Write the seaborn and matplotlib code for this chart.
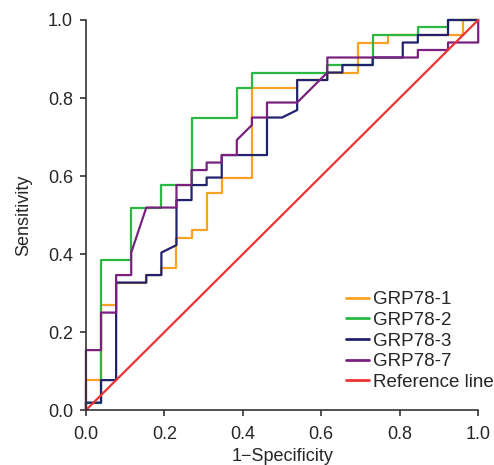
import numpy as np
import pandas as pd
import matplotlib
matplotlib.use("Agg")
import matplotlib.pyplot as plt
import seaborn as sns

# ROC steps: false positives out of 26 negatives,
# true positives out of 52 positives (curve vertices, in drawing order)
N_NEG = 26
N_POS = 52

grp1_fp = [0, 0, 1, 1, 2, 2, 4, 4, 5, 5, 6, 6, 7, 7, 8, 8, 9, 9, 11, 11, 14, 14, 16, 16, 17, 17, 18, 18, 20, 20, 25, 25, 26]
grp1_tp = [0, 4, 4, 14, 14, 17, 17, 18, 18, 19, 19, 23, 23, 24, 24, 29, 29, 31, 31, 43, 43, 44, 44, 45, 45, 45, 45, 49, 49, 50, 50, 52, 52]

grp2_fp = [0, 0, 1, 1, 3, 3, 5, 5, 7, 7, 10, 10, 11, 11, 16, 16, 19, 19, 22, 22, 24, 24, 26]
grp2_tp = [0, 1, 1, 20, 20, 27, 27, 30, 30, 39, 39, 43, 43, 45, 45, 46, 46, 50, 50, 51, 51, 52, 52]

grp3_fp = [0, 0, 1, 1, 2, 2, 4, 4, 5, 5, 6, 6, 7, 7, 8, 8, 9, 9, 12, 12, 13, 14, 14, 16, 16, 17, 17, 19, 19, 21, 21, 22, 22, 24, 24, 26]
grp3_tp = [0, 1, 1, 4, 4, 17, 17, 18, 18, 21, 22, 28, 28, 30, 30, 31, 31, 34, 34, 39, 39, 40, 44, 44, 45, 45, 46, 46, 47, 47, 49, 49, 50, 50, 52, 52]

grp7_fp = [0, 0, 1, 1, 2, 2, 3, 3, 4, 6, 6, 7, 7, 8, 8, 9, 9, 10, 10, 11, 11, 12, 12, 14, 16, 16, 22, 22, 24, 24, 26, 26]
grp7_tp = [0, 8, 8, 13, 13, 18, 18, 21, 27, 27, 30, 30, 32, 32, 33, 33, 34, 34, 36, 38, 39, 39, 41, 41, 45, 47, 47, 48, 48, 49, 49, 52]

ref_x = [0.0, 1.0]
ref_y = [0.0, 1.0]

labels = ["GRP78-1", "GRP78-2", "GRP78-3", "GRP78-7", "Reference line"]
colors = ["#F9A125", "#2BB742", "#20226E", "#7A2180", "#EE3334"]

curves = [(grp1_fp, grp1_tp), (grp2_fp, grp2_tp), (grp3_fp, grp3_tp), (grp7_fp, grp7_tp)]
frames = []
for (fp, tp), lab in zip(curves, labels[:4]):
    d = pd.DataFrame({"fpr": np.array(fp) / N_NEG, "tpr": np.array(tp) / N_POS})
    d["curve"] = lab
    frames.append(d)
frames.append(pd.DataFrame({"fpr": ref_x, "tpr": ref_y, "curve": labels[4]}))
df = pd.concat(frames, ignore_index=True)

sns.set_style("ticks")
plt.rcParams["font.family"] = ["Liberation Sans", "DejaVu Sans"]

fig = plt.figure(figsize=(4.94, 4.65), dpi=100)
ax = fig.add_axes([0.174, 0.118, 0.794, 0.839])

sns.lineplot(data=df, x="fpr", y="tpr", hue="curve", hue_order=labels,
             palette=colors, sort=False, estimator=None, units="curve",
             linewidth=1.6, ax=ax, clip_on=False)

ax.set_xlim(0, 1)
ax.set_ylim(0, 1)
ticks = [0.0, 0.2, 0.4, 0.6, 0.8, 1.0]
ax.set_xticks(ticks)
ax.set_yticks(ticks)
ax.set_xticklabels([f"{t:.1f}" for t in ticks])
ax.set_yticklabels([f"{t:.1f}" for t in ticks])
ax.tick_params(labelsize=13, length=4.3, width=1.2, color="#333333")
ax.tick_params(axis="x", pad=7)
ax.tick_params(axis="y", pad=5)
for side in ["top", "right"]:
    ax.spines[side].set_visible(False)
for side in ["left", "bottom"]:
    ax.spines[side].set_linewidth(1.2)
    ax.spines[side].set_color("#333333")

ax.set_xlabel("1\u2212Specificity", fontsize=13, labelpad=4)
ax.set_ylabel("Sensitivity", fontsize=13, labelpad=11)

leg = ax.legend(loc="lower right", bbox_to_anchor=(1.058, 0.03), frameon=False,
                fontsize=13.5, handlelength=1.2, handletextpad=0.2,
                labelspacing=0.19, borderaxespad=0)
for line in leg.get_lines():
    line.set_linewidth(2)

fig.savefig("out.png", dpi=100)
plt.close(fig)
